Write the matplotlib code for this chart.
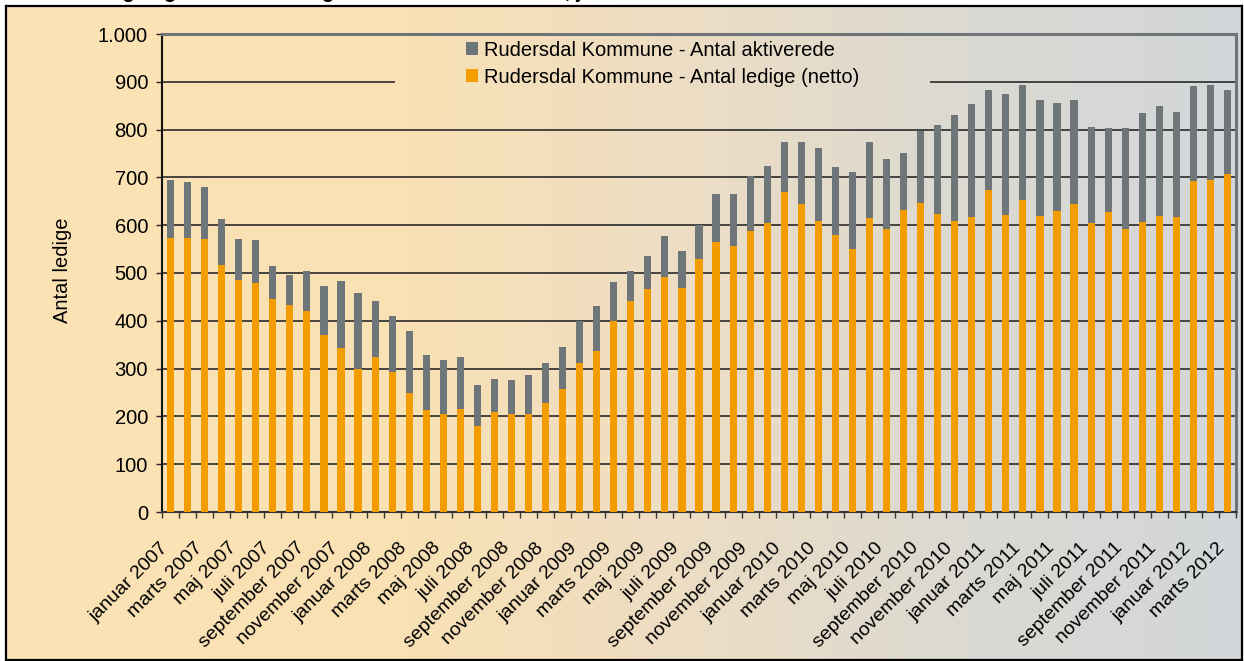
import matplotlib
matplotlib.use("Agg")
import matplotlib.pyplot as plt
import numpy as np
from matplotlib.patches import Patch
from matplotlib.ticker import FuncFormatter
from matplotlib.transforms import ScaledTranslation

plt.rcParams['font.family'] = ['Liberation Sans', 'DejaVu Sans']

# ---------------- data ----------------
month_names = ['januar', 'februar', 'marts', 'april', 'maj', 'juni', 'juli',
               'august', 'september', 'oktober', 'november', 'december']
years = [2007, 2008, 2009, 2010, 2011, 2012]
categories = [f"{m} {y}" for y in years for m in month_names][:63]  # januar 2007 - marts 2012

ledige = [574, 574, 571, 517, 485, 479, 446, 433, 421, 370, 343, 299,
          324, 293, 249, 213, 205, 215, 180, 209, 205, 205, 228, 257,
          312, 337, 399, 441, 466, 491, 468, 529, 564, 556, 587, 604,
          669, 644, 608, 579, 550, 615, 592, 631, 646, 623, 608, 617,
          673, 621, 652, 619, 629, 644, 604, 627, 592, 606, 619, 617,
          692, 694, 707]
aktiverede = [121, 116, 109, 96, 86, 90, 69, 63, 83, 103, 140, 159,
              117, 117, 130, 115, 113, 109, 86, 69, 71, 82, 84, 88,
              87, 94, 82, 63, 69, 86, 78, 71, 101, 109, 115, 119,
              105, 130, 153, 142, 161, 159, 146, 120, 151, 186, 222, 236,
              209, 253, 241, 242, 226, 217, 201, 176, 211, 228, 230, 219,
              199, 199, 175]
tick_labels = categories[::2]
series_names = ['Rudersdal Kommune - Antal aktiverede',
                'Rudersdal Kommune - Antal ledige (netto)']
y_ticks = list(range(0, 1001, 100))

# ---------------- style ----------------
W, H = 1244, 661
ORANGE = '#F39C00'
GREY = '#6F767A'
FS = 14.5
FSX = 14

def grad_color(xf):
    stops = [(0.0, (251, 227, 180)), (0.33, (249, 225, 181)),
             (0.55, (237, 221, 196)), (0.78, (219, 217, 210)),
             (1.0, (211, 215, 218))]
    xs = [s[0] for s in stops]
    out = []
    for c in range(3):
        out.append(np.interp(xf, xs, [s[1][c] for s in stops]) / 255.0)
    return np.stack(out, axis=-1)

def px_rect(x0, y0, x1, y1):
    return [x0 / W, 1 - y1 / H, (x1 - x0) / W, (y1 - y0) / H]

fig = plt.figure(figsize=(W / 100, H / 100), dpi=100)
fig.patch.set_facecolor('white')

# background gradient panel with border
bx0, by0, bx1, by1 = 6, 6, 1242, 660
bg = fig.add_axes(px_rect(bx0, by0, bx1, by1), zorder=-10)
xf = np.linspace(bx0 / W, bx1 / W, 600)
img = np.tile(grad_color(xf)[None, :, :], (2, 1, 1))
bg.imshow(img, aspect='auto', extent=[0, 1, 0, 1], interpolation='bilinear')
bg.set_xticks([]); bg.set_yticks([])
for s in bg.spines.values():
    s.set_color('black'); s.set_linewidth(1.6)

# main axes
ax = fig.add_axes(px_rect(162, 34, 1236, 512), zorder=0)
ax.patch.set_visible(False)
x = np.arange(len(categories))
ax.bar(x, ledige, width=0.42, color=ORANGE, zorder=3)
ax.bar(x, aktiverede, bottom=ledige, width=0.42, color=GREY, zorder=3)

ax.set_xlim(-0.5, len(categories) - 0.5)
ax.set_ylim(0, 1000)
ax.set_yticks(y_ticks)
ax.yaxis.set_major_formatter(FuncFormatter(lambda v, p: f"{v:,.0f}".replace(',', '.')))
ax.yaxis.grid(True, color='#2a2a2a', linewidth=1.2)
ax.set_axisbelow(True)

ax.set_xticks(x[::2])
ax.set_xticklabels(tick_labels, rotation=45, ha='right', va='center', rotation_mode='anchor')
ax.set_xticks(np.arange(-0.5, len(categories), 1), minor=True)
ax.tick_params(axis='x', which='major', length=0, pad=24, labelsize=FSX)
ax.tick_params(axis='x', which='minor', length=4, width=1, color='#333333', direction='out')
ax.tick_params(axis='y', length=4, width=1, color='#222222', direction='out', pad=6, labelsize=FS)
shift = ScaledTranslation(-5 / 100, 0, fig.dpi_scale_trans)
for lab in ax.get_xticklabels():
    lab.set_transform(lab.get_transform() + shift)

ax.spines['left'].set_color('#111111'); ax.spines['left'].set_linewidth(1.5)
ax.spines['bottom'].set_color('#333333'); ax.spines['bottom'].set_linewidth(1.5)
for side in ('top', 'right'):
    ax.spines[side].set_color('#6E7477'); ax.spines[side].set_linewidth(2.2)

# legend background patch (hides gridlines behind the legend)
lx0, ly0, lx1, ly1 = 395, 37, 930, 108
lg = fig.add_axes(px_rect(lx0, ly0, lx1, ly1), zorder=1)
xf2 = np.linspace(lx0 / W, lx1 / W, 300)
lg.imshow(np.tile(grad_color(xf2)[None, :, :], (2, 1, 1)), aspect='auto',
          extent=[0, 1, 0, 1], interpolation='bilinear')
lg.axis('off')

handles = [Patch(facecolor=GREY), Patch(facecolor=ORANGE)]
fig.legend(handles, series_names, loc='upper left',
           bbox_to_anchor=(466 / W, 1 - 41 / H), frameon=False,
           fontsize=FS, handlelength=0.62, handleheight=0.62,
           handletextpad=0.25, labelspacing=0.4, borderpad=0, borderaxespad=0)

fig.text(62 / W, 1 - 270 / H, 'Antal ledige', rotation=90, ha='center', va='center', fontsize=FS)

# title (cut off at the top edge, as in the original)
fig.text(32 / W, 1 + 1.5 / H, 'Antal ledige og aktiverede ledige i Rudersdal Kommune, januar 2007 - marts 2012',
         ha='left', va='baseline', fontsize=FS, fontweight='bold')

fig.savefig('out.png', dpi=100)
